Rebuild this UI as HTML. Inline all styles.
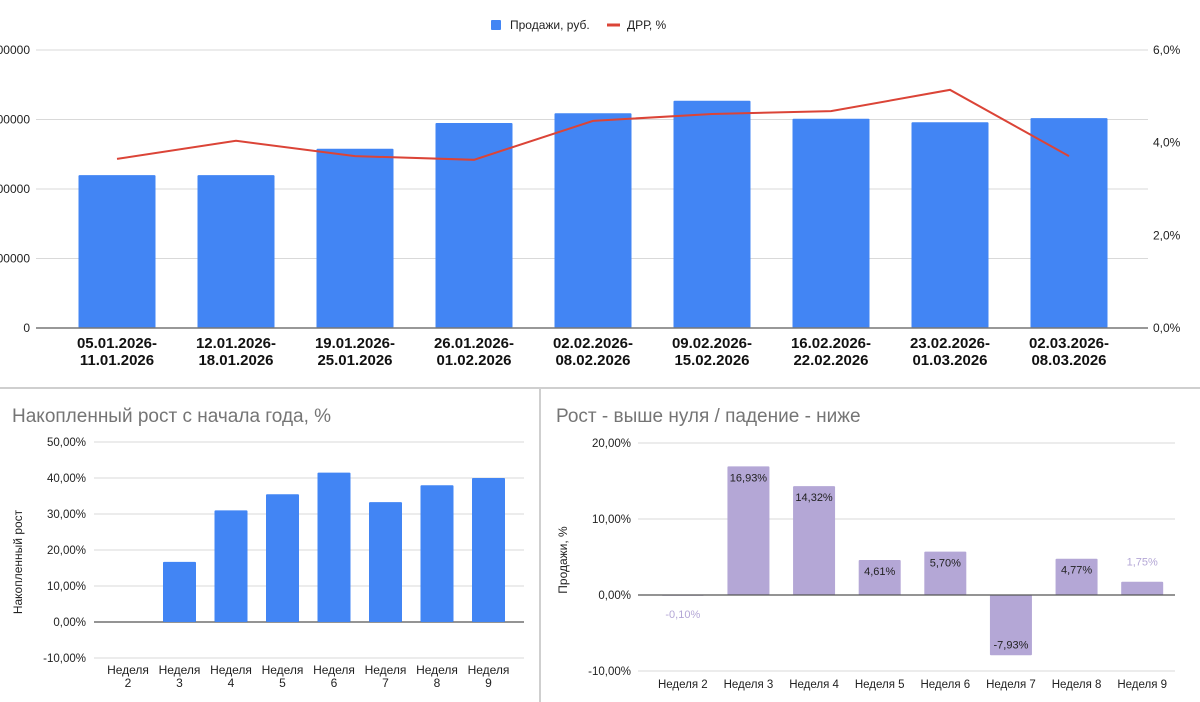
<!DOCTYPE html>
<html><head><meta charset="utf-8">
<style>
html,body{margin:0;padding:0;background:#fff;}
svg{display:block;font-family:"Liberation Sans",Arial,sans-serif;}
</style></head>
<body>
<svg id="root" width="1200" height="702" viewBox="0 0 1200 702" xmlns="http://www.w3.org/2000/svg">
  <g id="top"></g>
  <line x1="0" y1="388" x2="1200" y2="388" stroke="#cfcfcf" stroke-width="2"/>
  <line x1="540" y1="389" x2="540" y2="702" stroke="#cfcfcf" stroke-width="2"/>
  <g id="bl"></g>
  <g id="br"></g>
</svg>
<script>
// ---- top chart data ----
const topCategories = [["05.01.2026-","11.01.2026"],["12.01.2026-","18.01.2026"],["19.01.2026-","25.01.2026"],["26.01.2026-","01.02.2026"],["02.02.2026-","08.02.2026"],["09.02.2026-","15.02.2026"],["16.02.2026-","22.02.2026"],["23.02.2026-","01.03.2026"],["02.03.2026-","08.03.2026"]];
const salesValues = [2200000, 2200000, 2580000, 2950000, 3090000, 3270000, 3010000, 2960000, 3020000];
const drrValues = [3.65, 4.04, 3.71, 3.63, 4.47, 4.62, 4.68, 5.14, 3.71];
const leftTicks = [0, 1000000, 2000000, 3000000, 4000000];
const rightTicks = [0, 2, 4, 6];
// ---- bottom-left data ----
const cumCategories = ["2","3","4","5","6","7","8","9"];
const cumValues = [0, 16.7, 31.0, 35.5, 41.5, 33.3, 38.0, 40.0];
const cumTicks = [-10, 0, 10, 20, 30, 40, 50];
// ---- bottom-right data ----
const wkCategories = ["Неделя 2","Неделя 3","Неделя 4","Неделя 5","Неделя 6","Неделя 7","Неделя 8","Неделя 9"];
const wkValues = [-0.10, 16.93, 14.32, 4.61, 5.70, -7.93, 4.77, 1.75];
const wkTicks = [-10, 0, 10, 20];

const NS = "http://www.w3.org/2000/svg";
function mk(parent, tag, attrs, text){
  const e = document.createElementNS(NS, tag);
  for (const k in attrs) e.setAttribute(k, attrs[k]);
  if (text !== undefined) e.textContent = text;
  parent.appendChild(e);
  return e;
}
const fmt = (v, d) => v.toFixed(d).replace('.', ',') + '%';

// ---------- TOP ----------
(function(){
  const g = document.getElementById('top');
  const x0 = 57.5, x1 = 1148, yB = 328, yT = 50;
  const ySales = v => yB - (v / 4000000) * (yB - yT);
  const yDrr = v => yB - (v / 6) * (yB - yT);
  const step = 119;
  const xc = i => x0 + step * (i + 0.5);
  leftTicks.forEach(t => {
    const y = ySales(t);
    if (t !== 0) {
      const l = mk(g, 'line', {x1: 36, x2: x1, y1: y, y2: y, stroke: '#d9d9d9', 'stroke-width': 1});
      
      
    }
    const tx = mk(g, 'text', {x: 30, y: y + 4, 'text-anchor': 'end', 'font-size': 12, fill: '#222'}, String(t));
    
    
  });
  rightTicks.forEach(t => {
    const tx = mk(g, 'text', {x: 1153, y: yDrr(t) + 4, 'font-size': 12, fill: '#222'}, t.toFixed(1).replace('.', ',') + '%');
    
    
  });
  salesValues.forEach((v, i) => {
    const y = ySales(v);
    const r = mk(g, 'rect', {x: xc(i) - 38.5, y: y, width: 77, height: yB - y, fill: '#4285f4', rx: 1});
    
    
  });
  const ax = mk(g, 'line', {x1: 36, x2: x1, y1: yB, y2: yB, stroke: '#777', 'stroke-width': 1.5});
  
  
  const pts = drrValues.map((v, i) => xc(i) + ',' + yDrr(v)).join(' ');
  const pl = mk(g, 'polyline', {points: pts, fill: 'none', stroke: '#db4437', 'stroke-width': 2});
  
  
  topCategories.forEach((c, i) => {
    const t = mk(g, 'text', {x: xc(i), y: 348, 'text-anchor': 'middle', 'font-size': 15, 'font-weight': 'bold', fill: '#111'});
    
    
    mk(t, 'tspan', {x: xc(i), dy: 0}, c[0]);
    mk(t, 'tspan', {x: xc(i), dy: 17}, c[1]);
  });
  const lg = mk(g, 'g', {});
  
  
  const s1 = mk(lg, 'rect', {x: 491, y: 20, width: 10, height: 10, fill: '#4285f4', rx: 1});
  
  
  const t1 = mk(lg, 'text', {x: 510, y: 29, 'font-size': 12, fill: '#222'}, 'Продажи, руб.');
  
  
  const s2 = mk(lg, 'line', {x1: 607, x2: 620, y1: 25, y2: 25, stroke: '#db4437', 'stroke-width': 3});
  
  
  const t2 = mk(lg, 'text', {x: 627, y: 29, 'font-size': 12, fill: '#222'}, 'ДРР, %');
  
  
})();

// ---------- BOTTOM LEFT ----------
(function(){
  const g = document.getElementById('bl');
  const x0 = 102.25, x1 = 524;
  const y = v => 622 - v * 3.6;
  const step = 51.5;
  const xc = i => x0 + step * (i + 0.5);
  const title = mk(g, 'text', {x: 12, y: 422, 'font-size': 19, fill: '#757575'}, 'Накопленный рост с начала года, %');
  
  
  cumTicks.forEach(t => {
    const l = mk(g, 'line', {x1: 94, x2: x1, y1: y(t), y2: y(t), stroke: t === 0 ? '#555' : '#d9d9d9', 'stroke-width': t === 0 ? 1.3 : 1});
    
    
    const tx = mk(g, 'text', {x: 86, y: y(t) + 4, 'text-anchor': 'end', 'font-size': 11.5, fill: '#222'}, fmt(t, 2));
    
    
  });
  cumValues.forEach((v, i) => {
    if (v === 0) return;
    const r = mk(g, 'rect', {x: xc(i) - 16.5, y: y(v), width: 33, height: 622 - y(v), fill: '#4285f4', rx: 1});
    
    
  });
  cumCategories.forEach((c, i) => {
    const t = mk(g, 'text', {x: xc(i), y: 674, 'text-anchor': 'middle', 'font-size': 12, fill: '#222'});
    
    
    mk(t, 'tspan', {x: xc(i), dy: 0}, 'Неделя');
    mk(t, 'tspan', {x: xc(i), dy: 13}, c);
  });
  const at = mk(g, 'text', {x: 22, y: 562, 'text-anchor': 'middle', 'font-size': 12, fill: '#222', transform: 'rotate(-90 22 562)'}, 'Накопленный рост');
  
  
})();

// ---------- BOTTOM RIGHT ----------
(function(){
  const g = document.getElementById('br');
  const x0 = 650, x1 = 1175;
  const y = v => 595 - v * 7.6;
  const step = (x1 - x0) / wkCategories.length;
  const xc = i => x0 + step * (i + 0.5);
  const title = mk(g, 'text', {x: 556, y: 422, 'font-size': 19, fill: '#757575'}, 'Рост - выше нуля / падение - ниже');
  
  
  wkTicks.forEach(t => {
    if (t !== 0) {
      const l = mk(g, 'line', {x1: 638, x2: x1, y1: y(t), y2: y(t), stroke: '#d9d9d9', 'stroke-width': 1});
      
      
    }
    const tx = mk(g, 'text', {x: 631, y: y(t) + 4, 'text-anchor': 'end', 'font-size': 11.5, fill: '#222'}, fmt(t, 2));
    
    
  });
  wkValues.forEach((v, i) => {
    const top = Math.min(y(v), y(0)), h = Math.abs(y(v) - y(0));
    const r = mk(g, 'rect', {x: xc(i) - 21, y: top, width: 42, height: Math.max(h, 0.5), fill: '#b4a7d6', rx: 1});
    
    
    const small = Math.abs(v) < 3;
    let ly;
    if (small) ly = v >= 0 ? y(v) - 16 : y(0) + 23;
    else ly = v >= 0 ? y(v) + 15 : y(v) - 7;
    const lt = mk(g, 'text', {x: xc(i), y: ly, 'text-anchor': 'middle', 'font-size': 11, fill: small ? '#b4a7d6' : '#222'}, fmt(v, 2));
    
    
  });
  const ax = mk(g, 'line', {x1: 638, x2: x1, y1: y(0), y2: y(0), stroke: '#555', 'stroke-width': 1.3});
  
  
  wkCategories.forEach((c, i) => {
    const t = mk(g, 'text', {x: xc(i), y: 688, 'text-anchor': 'middle', 'font-size': 11.5, fill: '#222'}, c);
    
    
  });
  const at = mk(g, 'text', {x: 567, y: 560, 'text-anchor': 'middle', 'font-size': 12, fill: '#222', transform: 'rotate(-90 567 560)'}, 'Продажи, %');
  
  
})();
</script>
</body></html>
